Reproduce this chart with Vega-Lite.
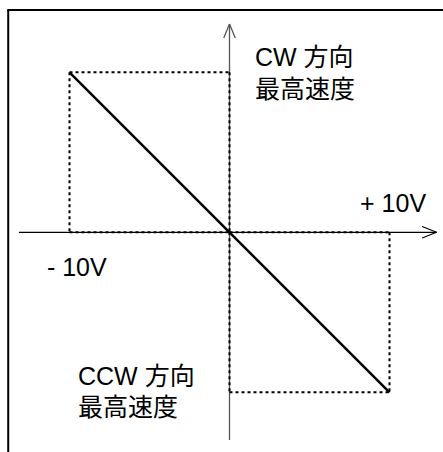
{
  "$schema": "https://vega.github.io/schema/vega-lite/v6.json",
  "width": 443,
  "height": 452,
  "autosize": "none",
  "padding": 0,
  "background": "white",
  "config": {"view": {"stroke": null}},
  "datasets": {
    "border": [
      {"x": -13.83, "y": -13.9, "x2": -13.83, "y2": 13.89},
      {"x": -13.89, "y": 13.89, "x2": 13.5, "y2": 13.89}
    ],
    "hAxis": [
      {"x": -13.16, "y": 0, "x2": 12.94, "y2": 0},
      {"x": 12.04, "y": 0.36, "x2": 12.94, "y2": 0},
      {"x": 12.04, "y": -0.36, "x2": 12.94, "y2": 0}
    ],
    "vAxis": [
      {"x": 0, "y": -12.98, "x2": 0, "y2": 13.02},
      {"x": -0.36, "y": 12.14, "x2": 0, "y2": 13.02},
      {"x": 0.36, "y": 12.14, "x2": 0, "y2": 13.02}
    ],
    "dotted": [
      {"x": -10, "y": 10, "x2": 0, "y2": 10},
      {"x": -10, "y": 10, "x2": -10, "y2": 0},
      {"x": 0, "y": 10, "x2": 0, "y2": 0},
      {"x": -10, "y": 0, "x2": 0, "y2": 0},
      {"x": 0, "y": -10, "x2": 10, "y2": -10},
      {"x": 10, "y": 0, "x2": 10, "y2": -10},
      {"x": 0, "y": 0, "x2": 10, "y2": 0},
      {"x": 0, "y": 0, "x2": 0, "y2": -10}
    ],
    "diag": [
      {"x": -10, "y": 10, "x2": 10, "y2": -10}
    ],
    "labels": [
      {"x": 1.59, "y": 10.39, "label": "CW 方向"},
      {"x": 1.59, "y": 8.39, "label": "最高速度"},
      {"x": 8.16, "y": 1.27, "label": "+ 10V"},
      {"x": -11.41, "y": -2.73, "label": "- 10V"},
      {"x": -9.47, "y": -9.54, "label": "CCW 方向"},
      {"x": -9.47, "y": -11.48, "label": "最高速度"}
    ]
  },
  "layer": [
    {
      "data": {"name": "border"},
      "mark": {"type": "rule", "color": "black", "strokeWidth": 2},
      "encoding": {
        "x": {"field": "x", "type": "quantitative", "scale": {"domain": [-14.34375, 13.34375], "nice": false, "zero": false}, "axis": null},
        "y": {"field": "y", "type": "quantitative", "scale": {"domain": [-13.731, 14.519], "nice": false, "zero": false}, "axis": null},
        "x2": {"field": "x2"},
        "y2": {"field": "y2"}
      }
    },
    {
      "data": {"name": "hAxis"},
      "mark": {"type": "rule", "color": "black", "strokeWidth": 1.2},
      "encoding": {
        "x": {"field": "x", "type": "quantitative"},
        "y": {"field": "y", "type": "quantitative"},
        "x2": {"field": "x2"},
        "y2": {"field": "y2"}
      }
    },
    {
      "data": {"name": "vAxis"},
      "mark": {"type": "rule", "color": "#555555", "strokeWidth": 1.3},
      "encoding": {
        "x": {"field": "x", "type": "quantitative"},
        "y": {"field": "y", "type": "quantitative"},
        "x2": {"field": "x2"},
        "y2": {"field": "y2"}
      }
    },
    {
      "data": {"name": "dotted"},
      "mark": {"type": "rule", "color": "black", "strokeWidth": 2, "strokeDash": [3, 3]},
      "encoding": {
        "x": {"field": "x", "type": "quantitative"},
        "y": {"field": "y", "type": "quantitative"},
        "x2": {"field": "x2"},
        "y2": {"field": "y2"}
      }
    },
    {
      "data": {"name": "diag"},
      "mark": {"type": "rule", "color": "black", "strokeWidth": 2.5},
      "encoding": {
        "x": {"field": "x", "type": "quantitative"},
        "y": {"field": "y", "type": "quantitative"},
        "x2": {"field": "x2"},
        "y2": {"field": "y2"}
      }
    },
    {
      "data": {"name": "labels"},
      "mark": {"type": "text", "align": "left", "baseline": "alphabetic", "fontSize": 25, "font": "Liberation Sans, Noto Sans CJK JP", "color": "black"},
      "encoding": {
        "x": {"field": "x", "type": "quantitative"},
        "y": {"field": "y", "type": "quantitative"},
        "text": {"field": "label"}
      }
    }
  ]
}
